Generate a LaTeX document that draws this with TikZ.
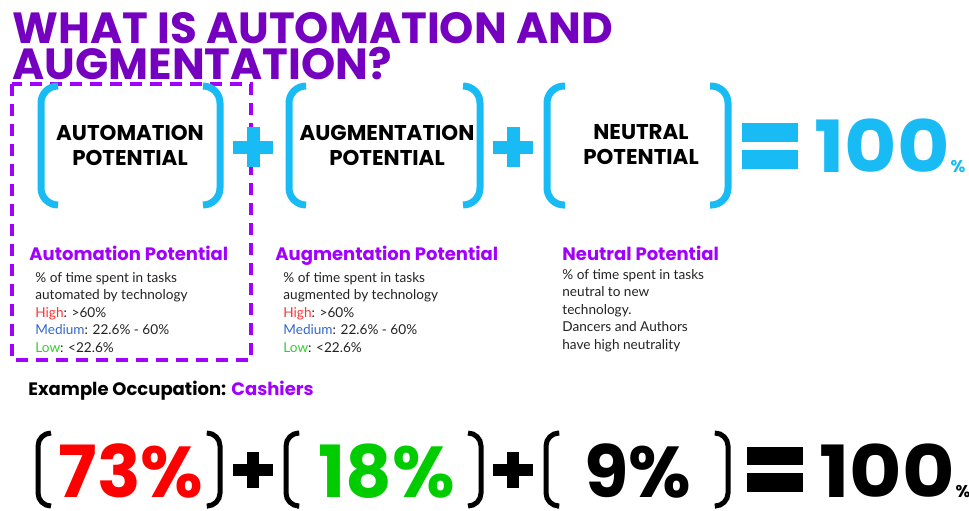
\documentclass[tikz,border=0pt]{standalone}
\usepackage{fontspec}
\setmainfont{Lato}
\newfontfamily\heavy{Poppins}
\usetikzlibrary{positioning}
\definecolor{acpurple}{HTML}{7500C0}
\definecolor{brpurple}{HTML}{A100FF}
\definecolor{acblue}{HTML}{19BBF5}
\definecolor{hired}{HTML}{FF3333}
\definecolor{medblue}{HTML}{3366CC}
\definecolor{lowgreen}{HTML}{33CC33}
\definecolor{bodygray}{HTML}{222222}
\definecolor{bigred}{HTML}{FF0000}
\definecolor{biggreen}{HTML}{00CC00}
\tikzset{
  bluebrak/.style={draw=acblue,line width=3.5pt,rounded corners=8.5pt},
  blackbrak/.style={draw=black,line width=2.5pt,rounded corners=6.5pt},
  boxlabel/.style={inner sep=0pt,align=center,font=\heavy\bfseries\fontsize{10.7}{12.5}\selectfont},
  subhead/.style={inner sep=0pt,anchor=base west,text=brpurple,font=\heavy\bfseries\fontsize{9}{11}\selectfont},
  bodytext/.style={inner sep=0pt,anchor=north west,align=left,text=bodygray,font=\fontsize{6.8}{8.75}\selectfont},
  bignum/.style={inner sep=0pt,anchor=base,text depth=0pt,font=\heavy\bfseries\fontsize{36}{40}\selectfont},
  smallpct/.style={inner sep=0pt,anchor=base west,text depth=0pt,font=\heavy\bfseries\fontsize{8.5}{9}\selectfont}
}
\begin{document}
\begin{tikzpicture}[x=0.5pt,y=-0.5pt]
\useasboundingbox (0,0) rectangle (969,510);
% title
\node[inner sep=0pt,anchor=north west,align=left,text=acpurple,
      font=\heavy\bfseries\fontsize{21.8}{18}\selectfont] (title) at (12,12)
      {WHAT IS AUTOMATION AND\\AUGMENTATION?};
% dashed frame round the first term
\draw[brpurple,line width=2pt,dash pattern=on 6pt off 4pt] (12,84) rectangle (251,360);
% blue brackets
\draw[bluebrak] (58,86) -- (41,86) -- (41,205) -- (58,205);
\draw[bluebrak] (203,86) -- (220,86) -- (220,205) -- (203,205);
\draw[bluebrak] (306,86) -- (289,86) -- (289,205) -- (306,205);
\draw[bluebrak] (463,86) -- (480,86) -- (480,205) -- (463,205);
\draw[bluebrak] (565,86) -- (547,86) -- (547,205) -- (565,205);
\draw[bluebrak] (710,86) -- (728,86) -- (728,205) -- (710,205);
\node[boxlabel] (auto) at (130,145) {AUTOMATION\\POTENTIAL};
\node[boxlabel] (augm) at (387,145) {AUGMENTATION\\POTENTIAL};
\node[boxlabel] (neut) at (641,145) {NEUTRAL\\POTENTIAL};
% plus and equal signs
\foreach \px in {253,513}{
  \fill[acblue] (\px-20,140.5) rectangle (\px+20,153.5);
  \fill[acblue] (\px-6.5,127) rectangle (\px+6.5,167);
}
\fill[acblue] (742,123) rectangle (798,142);
\fill[acblue] (742,150) rectangle (798,169);
\node[bignum,anchor=base west,text=acblue] (hundred) at (814,172) {\scalebox{1.12}[1]{100}};
\node[smallpct,text=acblue] (pct) at (hundred.base east) {\%};
% explanations
\node[subhead] (autohead) at (29,260) {Automation Potential};
\node[bodytext] (autobody) at (35,272) {\% of time spent in tasks\\automated by technology\\
  \textcolor{hired}{High}: >60\%\\\textcolor{medblue}{Medium}: 22.6\% - 60\%\\\textcolor{lowgreen}{Low}: <22.6\%};
\node[subhead] (augmhead) at (275,260) {Augmentation Potential};
\node[bodytext] (augmbody) at (283,272) {\% of time spent in tasks\\augmented by technology\\
  \textcolor{hired}{High}: >60\%\\\textcolor{medblue}{Medium}: 22.6\% - 60\%\\\textcolor{lowgreen}{Low}: <22.6\%};
\node[subhead] (neuthead) at (562,260) {Neutral Potential};
\node[bodytext] (neutbody) at (562,269) {\% of time spent in tasks\\neutral to new\\technology.\\
  Dancers and Authors\\have high neutrality};
% example
\node[subhead,text=black] (example) at (28,395) {Example Occupation: \textcolor{brpurple}{Cashiers}};
\draw[blackbrak] (51,433) -- (38,433) -- (38,506) -- (51,506);
\draw[blackbrak] (208,433) -- (220,433) -- (220,506) -- (208,506);
\draw[blackbrak] (297,433) -- (286,433) -- (286,506) -- (297,506);
\draw[blackbrak] (468,433) -- (481,433) -- (481,506) -- (468,506);
\draw[blackbrak] (557,433) -- (546,433) -- (546,506) -- (557,506);
\draw[blackbrak] (716,433) -- (728,433) -- (728,506) -- (716,506);
\node[bignum,text=bigred] (cashauto) at (131,497) {73\%};
\node[bignum,text=biggreen] (cashaugm) at (387,497) {18\%};
\node[bignum] (cashneut) at (638,497) {9\%};
\foreach \px in {253,513}{
  \fill (\px-20,464) rectangle (\px+20,476);
  \fill (\px-6,452) rectangle (\px+6,488);
}
\fill (747,447) rectangle (803,465);
\fill (747,473) rectangle (803,492);
\node[bignum,anchor=base west] (cashsum) at (819,497) {\scalebox{1.12}[1]{100}};
\node[smallpct] (cashpct) at (cashsum.base east) {\%};
\end{tikzpicture}
\end{document}
